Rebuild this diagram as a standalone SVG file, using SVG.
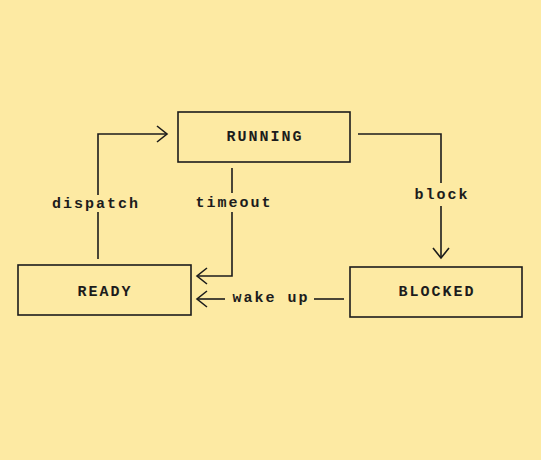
<svg xmlns="http://www.w3.org/2000/svg" width="541" height="460" viewBox="0 0 541 460">
<defs>
<style>
.box{fill:none;stroke:#1c1c1c;stroke-width:1.6}
.edge{fill:none;stroke:#1c1c1c;stroke-width:1.6}
.t{font-family:"Liberation Mono","Courier New",monospace;font-size:15px;font-weight:bold;letter-spacing:2px;fill:#1c1c1c;text-anchor:middle}
</style>
<marker id="arr" markerUnits="userSpaceOnUse" markerWidth="24" markerHeight="24" viewBox="-12 -12 24 24" refX="0" refY="0" orient="auto">
<path d="M-10,-8 L0,0 L-10,8" fill="none" stroke="#1c1c1c" stroke-width="1.6"/>
</marker>
</defs>
<rect width="541" height="460" fill="#FDEAA3"/>
<g id="running"><rect class="box" x="178" y="112" width="172" height="50"/><text class="t" x="265" y="141">RUNNING</text></g>
<g id="ready"><rect class="box" x="18" y="265" width="173" height="50"/><text class="t" x="105" y="296">READY</text></g>
<g id="blocked"><rect class="box" x="350" y="267" width="172" height="50"/><text class="t" x="437" y="296">BLOCKED</text></g>
<g id="connectors">
<path class="edge" d="M98,259 V212"/>
<path class="edge" d="M98,195 V134 H167" marker-end="url(#arr)"/>
<text class="t" x="96" y="208">dispatch</text>
<path class="edge" d="M232,168 V193"/>
<path class="edge" d="M232,212 V276 H197" marker-end="url(#arr)"/>
<text class="t" x="234" y="207">timeout</text>
<path class="edge" d="M358,134 H441 V183"/>
<path class="edge" d="M441,206 V258" marker-end="url(#arr)"/>
<text class="t" x="442" y="199">block</text>
<path class="edge" d="M344,299 H314"/>
<path class="edge" d="M225,299 H197" marker-end="url(#arr)"/>
<text class="t" x="271" y="302">wake up</text>
</g>
</svg>
